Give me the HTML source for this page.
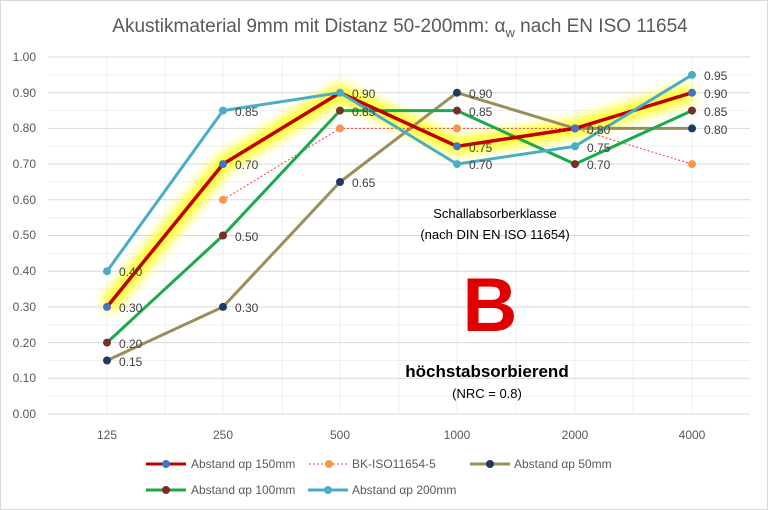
<!DOCTYPE html><html><head><style>body{margin:0;background:#fff}svg{display:block;font-family:"Liberation Sans",sans-serif}</style></head><body>
<svg width="768" height="510" viewBox="0 0 768 510">
<defs><filter id="g" x="-20%" y="-20%" width="140%" height="140%"><feGaussianBlur stdDeviation="5"/></filter></defs>
<rect x="0.5" y="0.5" width="767" height="509" fill="#fff" stroke="#d9d9d9"/>
<text x="400" y="32" font-size="19" fill="#595959" text-anchor="middle">Akustikmaterial 9mm mit Distanz 50-200mm: α<tspan font-size="13" dy="5">w</tspan><tspan dy="-5"> nach EN ISO 11654</tspan></text>
<g stroke="#efefef" stroke-width="1">
<line x1="48" x2="750" y1="74.9" y2="74.9"/><line x1="48" x2="750" y1="110.6" y2="110.6"/><line x1="48" x2="750" y1="146.3" y2="146.3"/><line x1="48" x2="750" y1="182" y2="182"/><line x1="48" x2="750" y1="217.7" y2="217.7"/><line x1="48" x2="750" y1="253.4" y2="253.4"/><line x1="48" x2="750" y1="289.1" y2="289.1"/><line x1="48" x2="750" y1="324.8" y2="324.8"/><line x1="48" x2="750" y1="360.5" y2="360.5"/><line x1="48" x2="750" y1="396.2" y2="396.2"/>
<line x1="107" x2="107" y1="57" y2="414"/><line x1="165" x2="165" y1="57" y2="414"/><line x1="223" x2="223" y1="57" y2="414"/><line x1="282" x2="282" y1="57" y2="414"/><line x1="340" x2="340" y1="57" y2="414"/><line x1="399" x2="399" y1="57" y2="414"/><line x1="457" x2="457" y1="57" y2="414"/><line x1="516" x2="516" y1="57" y2="414"/><line x1="575" x2="575" y1="57" y2="414"/><line x1="633" x2="633" y1="57" y2="414"/><line x1="692" x2="692" y1="57" y2="414"/>
</g>
<g stroke="#d9d9d9" stroke-width="1">
<line x1="48" x2="750" y1="57" y2="57"/><line x1="48" x2="750" y1="92.7" y2="92.7"/><line x1="48" x2="750" y1="128.4" y2="128.4"/><line x1="48" x2="750" y1="164.1" y2="164.1"/><line x1="48" x2="750" y1="199.8" y2="199.8"/><line x1="48" x2="750" y1="235.5" y2="235.5"/><line x1="48" x2="750" y1="271.2" y2="271.2"/><line x1="48" x2="750" y1="306.9" y2="306.9"/><line x1="48" x2="750" y1="342.6" y2="342.6"/><line x1="48" x2="750" y1="378.3" y2="378.3"/><line x1="48" x2="750" y1="414" y2="414"/>
</g>
<g font-size="12" fill="#595959" text-anchor="end">
<text x="36" y="61">1.00</text><text x="36" y="97">0.90</text><text x="36" y="132">0.80</text><text x="36" y="168">0.70</text><text x="36" y="204">0.60</text><text x="36" y="239">0.50</text><text x="36" y="275">0.40</text><text x="36" y="311">0.30</text><text x="36" y="347">0.20</text><text x="36" y="382">0.10</text><text x="36" y="418">0.00</text>
</g>
<g font-size="12" fill="#595959" text-anchor="middle">
<text x="107" y="439">125</text><text x="223" y="439">250</text><text x="340" y="439">500</text><text x="457" y="439">1000</text><text x="575" y="439">2000</text><text x="692" y="439">4000</text>
</g>
<polyline points="107,306.9 223,164.1 340,92.7 457,146.3 575,128.4 692,92.7" fill="none" stroke="#ffff30" stroke-width="18" stroke-linejoin="round" filter="url(#g)"/>
<polyline points="107,360.5 223,306.9 340,182 457,92.7 575,128.4 692,128.4" fill="none" stroke="#9a8f5a" stroke-width="3"/>
<polyline points="223,199.8 340,128.4 457,128.4 575,128.4 692,164.1" fill="none" stroke="#e84040" stroke-width="1" stroke-dasharray="2,2"/>
<polyline points="107,342.6 223,235.5 340,110.6 457,110.6 575,164.1 692,110.6" fill="none" stroke="#1aaa4a" stroke-width="3"/>
<polyline points="107,306.9 223,164.1 340,92.7 457,146.3 575,128.4 692,92.7" fill="none" stroke="#c00000" stroke-width="3.5"/>
<polyline points="107,271.2 223,110.6 340,92.7 457,164.1 575,146.3 692,74.9" fill="none" stroke="#4bacc6" stroke-width="3"/>
<g fill="#f79646"><circle cx="223" cy="199.8" r="4"/><circle cx="340" cy="128.4" r="4"/><circle cx="457" cy="128.4" r="4"/><circle cx="692" cy="164.1" r="4"/></g>
<g fill="#1f3864"><circle cx="107" cy="360.5" r="4"/><circle cx="223" cy="306.9" r="4"/><circle cx="340" cy="182" r="4"/><circle cx="457" cy="92.7" r="4"/><circle cx="575" cy="128.4" r="4"/><circle cx="692" cy="128.4" r="4"/></g>
<g fill="#7b2c2c"><circle cx="107" cy="342.6" r="4"/><circle cx="223" cy="235.5" r="4"/><circle cx="340" cy="110.6" r="4"/><circle cx="457" cy="110.6" r="4"/><circle cx="575" cy="164.1" r="4"/><circle cx="692" cy="110.6" r="4"/></g>
<g fill="#4472c4"><circle cx="107" cy="306.9" r="4"/><circle cx="223" cy="164.1" r="4"/><circle cx="457" cy="146.3" r="4"/><circle cx="575" cy="128.4" r="4"/><circle cx="692" cy="92.7" r="4"/></g>
<g fill="#4bacc6"><circle cx="107" cy="271.2" r="4"/><circle cx="223" cy="110.6" r="4"/><circle cx="340" cy="92.7" r="4"/><circle cx="457" cy="164.1" r="4"/><circle cx="575" cy="146.3" r="4"/><circle cx="692" cy="74.9" r="4"/></g>
<g font-size="12" fill="#404040">
<text x="119" y="276">0.40</text><text x="119" y="312">0.30</text><text x="119" y="348">0.20</text><text x="119" y="366">0.15</text>
<text x="235" y="116">0.85</text><text x="235" y="169">0.70</text><text x="235" y="241">0.50</text><text x="235" y="312">0.30</text>
<text x="352" y="98">0.90</text><text x="352" y="116">0.85</text><text x="352" y="187">0.65</text>
<text x="469" y="98">0.90</text><text x="469" y="116">0.85</text><text x="469" y="152">0.75</text><text x="469" y="169">0.70</text>
<text x="587" y="134">0.80</text><text x="587" y="152">0.75</text><text x="587" y="169">0.70</text>
<text x="704" y="80">0.95</text><text x="704" y="98">0.90</text><text x="704" y="116">0.85</text><text x="704" y="134">0.80</text>
</g>
<g text-anchor="middle" fill="#000">
<text x="495" y="218" font-size="13">Schallabsorberklasse</text>
<text x="495" y="239" font-size="13">(nach DIN EN ISO 11654)</text>
<text x="490" y="331" font-size="76" font-weight="bold" fill="#e00000">B</text>
<text x="487" y="377" font-size="17" font-weight="bold">höchstabsorbierend</text>
<text x="487" y="398" font-size="13">(NRC = 0.8)</text>
</g>
<g font-size="12" fill="#595959">
<line x1="146" x2="186" y1="464" y2="464" stroke="#c00000" stroke-width="3"/><circle cx="166" cy="464" r="4" fill="#4472c4"/><text x="191" y="468">Abstand αp 150mm</text>
<line x1="309" x2="349" y1="464" y2="464" stroke="#e84040" stroke-width="1" stroke-dasharray="2,2"/><circle cx="329" cy="464" r="4" fill="#f79646"/><text x="352" y="468">BK-ISO11654-5</text>
<line x1="470" x2="510" y1="464" y2="464" stroke="#9a8f5a" stroke-width="3"/><circle cx="490" cy="464" r="4" fill="#1f3864"/><text x="514" y="468">Abstand  αp 50mm</text>
<line x1="146" x2="186" y1="490" y2="490" stroke="#1aaa4a" stroke-width="3"/><circle cx="166" cy="490" r="4" fill="#7b2c2c"/><text x="191" y="494">Abstand  αp 100mm</text>
<line x1="308" x2="348" y1="490" y2="490" stroke="#4bacc6" stroke-width="3"/><circle cx="328" cy="490" r="4" fill="#4bacc6"/><text x="352" y="494">Abstand αp 200mm</text>
</g>
</svg>
</body></html>
